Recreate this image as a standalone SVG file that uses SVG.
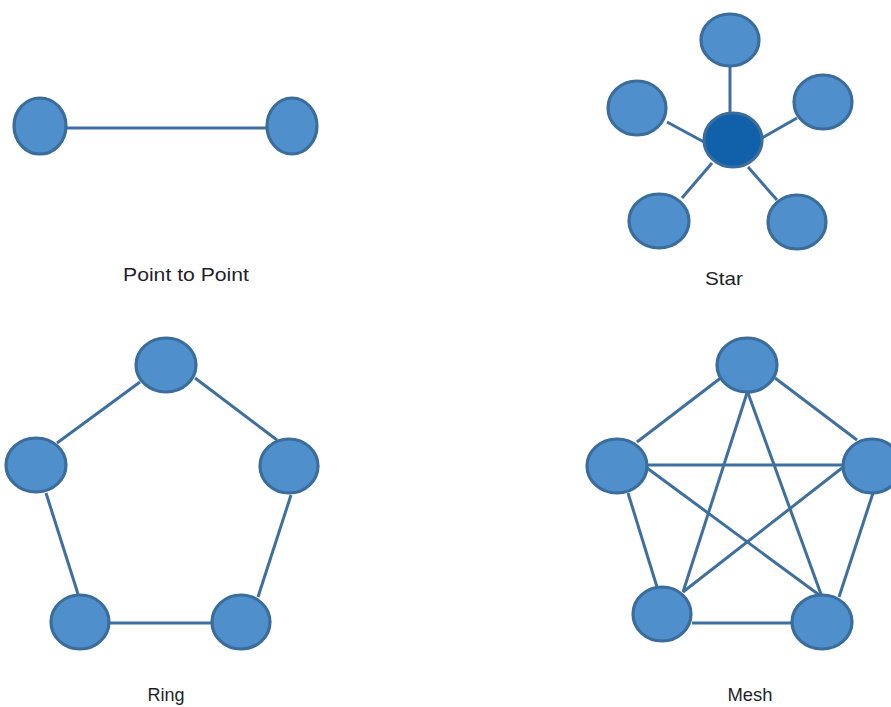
<svg xmlns="http://www.w3.org/2000/svg" width="891" height="707" viewBox="0 0 891 707">
<style>
.n{fill:#4f8fcb;stroke:#3b6d9c;stroke-width:3.2}
.hub{fill:#1160aa;stroke:#3b6d9c;stroke-width:3.2}
.e line{stroke:#3e6f9f;stroke-width:3;fill:none}
.t{font-family:"Liberation Sans",Arial,sans-serif;font-size:19px;fill:#1f1f2a;text-anchor:middle}
</style>
<rect width="891" height="707" fill="#fff"/>
<g id="connectors" class="e">
<line x1="66" y1="128" x2="267" y2="128"/>
<line x1="730" y1="66" x2="730" y2="113"/>
<line x1="667" y1="122" x2="704" y2="142"/>
<line x1="797" y1="118" x2="762" y2="138"/>
<line x1="712" y1="163" x2="682" y2="198"/>
<line x1="748" y1="167" x2="777" y2="200"/>
<line x1="140" y1="382" x2="57" y2="443"/>
<line x1="195" y1="378" x2="277" y2="440"/>
<line x1="46" y1="493" x2="78" y2="594"/>
<line x1="291" y1="495" x2="258" y2="597"/>
<line x1="110" y1="623" x2="212" y2="623"/>
<line x1="722" y1="377" x2="637" y2="442"/>
<line x1="775" y1="378" x2="857" y2="440"/>
<line x1="747" y1="393" x2="683" y2="592"/>
<line x1="748" y1="393" x2="822" y2="597"/>
<line x1="648" y1="465" x2="842" y2="465"/>
<line x1="647" y1="468" x2="822" y2="597"/>
<line x1="842" y1="468" x2="683" y2="592"/>
<line x1="628" y1="493" x2="657" y2="587"/>
<line x1="873" y1="493" x2="839" y2="597"/>
<line x1="692" y1="623" x2="792" y2="623"/>
</g>
<g id="p2p-a"><ellipse class="n" cx="40" cy="126" rx="26" ry="28"/></g>
<g id="p2p-b"><ellipse class="n" cx="292" cy="126" rx="25" ry="28"/></g>
<g id="star-top"><ellipse class="n" cx="730" cy="40" rx="29" ry="26"/></g>
<g id="star-left"><ellipse class="n" cx="637" cy="108" rx="29" ry="27"/></g>
<g id="star-right"><ellipse class="n" cx="823" cy="102" rx="29" ry="27"/></g>
<g id="star-hub"><ellipse class="hub" cx="733" cy="140" rx="29" ry="27"/></g>
<g id="star-bl"><ellipse class="n" cx="659" cy="221" rx="30" ry="27"/></g>
<g id="star-br"><ellipse class="n" cx="797" cy="222" rx="29" ry="27"/></g>
<g id="ring-top"><ellipse class="n" cx="166" cy="365" rx="30" ry="27"/></g>
<g id="ring-left"><ellipse class="n" cx="36" cy="465" rx="30" ry="27"/></g>
<g id="ring-right"><ellipse class="n" cx="289" cy="466" rx="29" ry="27"/></g>
<g id="ring-bl"><ellipse class="n" cx="80" cy="622" rx="29" ry="27"/></g>
<g id="ring-br"><ellipse class="n" cx="241" cy="622" rx="29" ry="27"/></g>
<g id="mesh-top"><ellipse class="n" cx="747" cy="365" rx="30" ry="27"/></g>
<g id="mesh-left"><ellipse class="n" cx="617" cy="466" rx="30" ry="27"/></g>
<g id="mesh-right"><ellipse class="n" cx="872" cy="466" rx="29" ry="27"/></g>
<g id="mesh-bl"><ellipse class="n" cx="662" cy="614" rx="29" ry="27"/></g>
<g id="mesh-br"><ellipse class="n" cx="822" cy="622" rx="30" ry="27"/></g>
<g id="labels">
<text class="t" x="186" y="281" textLength="126" lengthAdjust="spacingAndGlyphs">Point to Point</text>
<text class="t" x="724" y="285" textLength="38" lengthAdjust="spacingAndGlyphs">Star</text>
<text class="t" x="166" y="701" textLength="37" lengthAdjust="spacingAndGlyphs">Ring</text>
<text class="t" x="750" y="701" textLength="45" lengthAdjust="spacingAndGlyphs">Mesh</text>
</g>
</svg>
